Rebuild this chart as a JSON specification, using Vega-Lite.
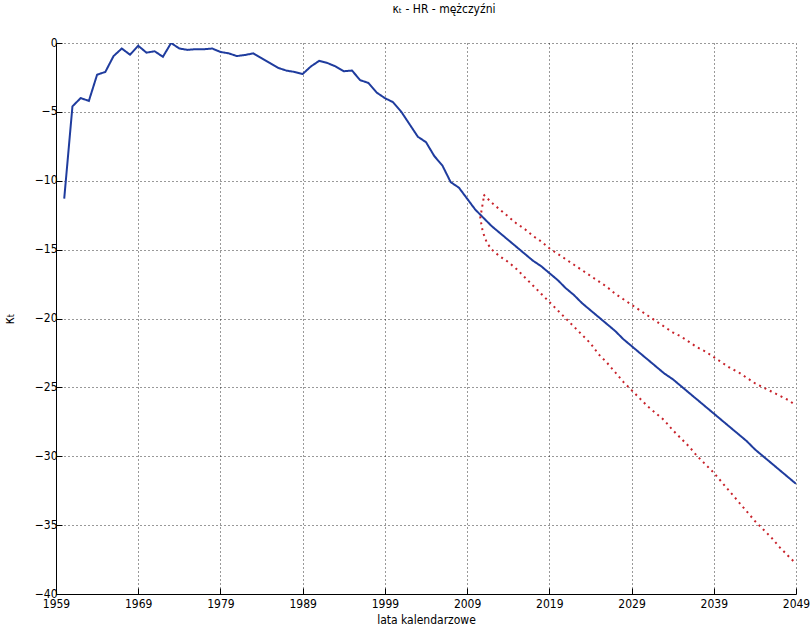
{
  "$schema": "https://vega.github.io/schema/vega-lite/v6.json",
  "width": 740,
  "height": 551,
  "autosize": "none",
  "padding": {"left": 56, "top": 43, "right": 16, "bottom": 37},
  "background": "white",
  "title": {"text": "κₜ - HR -  mężczyźni", "font": "DejaVu Sans Condensed, Liberation Sans, sans-serif", "fontSize": 12, "fontWeight": "normal", "color": "black", "offset": 20, "dx": 18},
  "config": {
    "view": {"stroke": null},
    "axis": {"labelFont": "DejaVu Sans Condensed, Liberation Sans, sans-serif", "labelFontSize": 12, "labelColor": "black", "titleFont": "DejaVu Sans Condensed, Liberation Sans, sans-serif", "titleFontSize": 12, "titleFontWeight": "normal", "titleColor": "black", "domainColor": "black", "tickColor": "black", "gridColor": "black", "gridDash": [1, 3], "gridOpacity": 0.8, "gridWidth": 1}
  },
  "data": {"values": [
    {"year":1960,"value":-11.3,"s":"kt"},{"year":1961,"value":-4.6,"s":"kt"},{"year":1962,"value":-4.0,"s":"kt"},{"year":1963,"value":-4.2,"s":"kt"},{"year":1964,"value":-2.3,"s":"kt"},{"year":1965,"value":-2.1,"s":"kt"},{"year":1966,"value":-0.95,"s":"kt"},{"year":1967,"value":-0.4,"s":"kt"},{"year":1968,"value":-0.85,"s":"kt"},{"year":1969,"value":-0.2,"s":"kt"},{"year":1970,"value":-0.7,"s":"kt"},{"year":1971,"value":-0.6,"s":"kt"},{"year":1972,"value":-1.0,"s":"kt"},{"year":1973,"value":0.0,"s":"kt"},{"year":1974,"value":-0.4,"s":"kt"},{"year":1975,"value":-0.5,"s":"kt"},{"year":1976,"value":-0.45,"s":"kt"},{"year":1977,"value":-0.45,"s":"kt"},{"year":1978,"value":-0.4,"s":"kt"},{"year":1979,"value":-0.65,"s":"kt"},{"year":1980,"value":-0.75,"s":"kt"},{"year":1981,"value":-0.95,"s":"kt"},{"year":1982,"value":-0.87,"s":"kt"},{"year":1983,"value":-0.75,"s":"kt"},{"year":1984,"value":-1.1,"s":"kt"},{"year":1985,"value":-1.45,"s":"kt"},{"year":1986,"value":-1.8,"s":"kt"},{"year":1987,"value":-2.0,"s":"kt"},{"year":1988,"value":-2.1,"s":"kt"},{"year":1989,"value":-2.25,"s":"kt"},{"year":1990,"value":-1.7,"s":"kt"},{"year":1991,"value":-1.3,"s":"kt"},{"year":1992,"value":-1.45,"s":"kt"},{"year":1993,"value":-1.7,"s":"kt"},{"year":1994,"value":-2.05,"s":"kt"},{"year":1995,"value":-2.0,"s":"kt"},{"year":1996,"value":-2.7,"s":"kt"},{"year":1997,"value":-2.9,"s":"kt"},{"year":1998,"value":-3.6,"s":"kt"},{"year":1999,"value":-4.0,"s":"kt"},{"year":2000,"value":-4.3,"s":"kt"},{"year":2001,"value":-5.0,"s":"kt"},{"year":2002,"value":-5.9,"s":"kt"},{"year":2003,"value":-6.8,"s":"kt"},{"year":2004,"value":-7.2,"s":"kt"},{"year":2005,"value":-8.2,"s":"kt"},{"year":2006,"value":-8.9,"s":"kt"},{"year":2007,"value":-10.1,"s":"kt"},{"year":2008,"value":-10.5,"s":"kt"},{"year":2009,"value":-11.3,"s":"kt"},{"year":2010,"value":-12.1,"s":"kt"},{"year":2011,"value":-12.7,"s":"kt"},{"year":2012,"value":-13.3,"s":"kt"},{"year":2013,"value":-13.8,"s":"kt"},{"year":2014,"value":-14.3,"s":"kt"},{"year":2015,"value":-14.8,"s":"kt"},{"year":2016,"value":-15.3,"s":"kt"},{"year":2017,"value":-15.8,"s":"kt"},{"year":2018,"value":-16.2,"s":"kt"},{"year":2019,"value":-16.7,"s":"kt"},{"year":2020,"value":-17.2,"s":"kt"},{"year":2021,"value":-17.8,"s":"kt"},{"year":2022,"value":-18.3,"s":"kt"},{"year":2023,"value":-18.9,"s":"kt"},{"year":2024,"value":-19.4,"s":"kt"},{"year":2025,"value":-19.9,"s":"kt"},{"year":2026,"value":-20.4,"s":"kt"},{"year":2027,"value":-20.9,"s":"kt"},{"year":2028,"value":-21.5,"s":"kt"},{"year":2029,"value":-22.0,"s":"kt"},{"year":2030,"value":-22.5,"s":"kt"},{"year":2031,"value":-23.0,"s":"kt"},{"year":2032,"value":-23.5,"s":"kt"},{"year":2033,"value":-24.0,"s":"kt"},{"year":2034,"value":-24.4,"s":"kt"},{"year":2035,"value":-24.9,"s":"kt"},{"year":2036,"value":-25.4,"s":"kt"},{"year":2037,"value":-25.9,"s":"kt"},{"year":2038,"value":-26.4,"s":"kt"},{"year":2039,"value":-26.9,"s":"kt"},{"year":2040,"value":-27.4,"s":"kt"},{"year":2041,"value":-27.9,"s":"kt"},{"year":2042,"value":-28.4,"s":"kt"},{"year":2043,"value":-28.9,"s":"kt"},{"year":2044,"value":-29.5,"s":"kt"},{"year":2045,"value":-30.0,"s":"kt"},{"year":2046,"value":-30.5,"s":"kt"},{"year":2047,"value":-31.0,"s":"kt"},{"year":2048,"value":-31.5,"s":"kt"},{"year":2049,"value":-32.0,"s":"kt"},
    {"year":2011,"value":-11.0,"s":"up"},{"year":2012,"value":-11.6,"s":"up"},{"year":2013,"value":-12.1,"s":"up"},{"year":2014,"value":-12.6,"s":"up"},{"year":2015,"value":-13.1,"s":"up"},{"year":2016,"value":-13.5,"s":"up"},{"year":2017,"value":-14.0,"s":"up"},{"year":2018,"value":-14.4,"s":"up"},{"year":2019,"value":-14.9,"s":"up"},{"year":2020,"value":-15.3,"s":"up"},{"year":2021,"value":-15.7,"s":"up"},{"year":2022,"value":-16.1,"s":"up"},{"year":2023,"value":-16.5,"s":"up"},{"year":2024,"value":-16.9,"s":"up"},{"year":2025,"value":-17.3,"s":"up"},{"year":2026,"value":-17.7,"s":"up"},{"year":2027,"value":-18.2,"s":"up"},{"year":2028,"value":-18.6,"s":"up"},{"year":2029,"value":-19.0,"s":"up"},{"year":2030,"value":-19.4,"s":"up"},{"year":2031,"value":-19.8,"s":"up"},{"year":2032,"value":-20.2,"s":"up"},{"year":2033,"value":-20.6,"s":"up"},{"year":2034,"value":-21.0,"s":"up"},{"year":2035,"value":-21.3,"s":"up"},{"year":2036,"value":-21.7,"s":"up"},{"year":2037,"value":-22.1,"s":"up"},{"year":2038,"value":-22.4,"s":"up"},{"year":2039,"value":-22.8,"s":"up"},{"year":2040,"value":-23.2,"s":"up"},{"year":2041,"value":-23.6,"s":"up"},{"year":2042,"value":-23.9,"s":"up"},{"year":2043,"value":-24.3,"s":"up"},{"year":2044,"value":-24.7,"s":"up"},{"year":2045,"value":-25.0,"s":"up"},{"year":2046,"value":-25.3,"s":"up"},{"year":2047,"value":-25.6,"s":"up"},{"year":2048,"value":-25.9,"s":"up"},{"year":2049,"value":-26.3,"s":"up"},
    {"year":2011.0,"value":-11.3,"s":"lo"},{"year":2010.6,"value":-12.7,"s":"lo"},{"year":2010.9,"value":-13.7,"s":"lo"},{"year":2011.4,"value":-14.5,"s":"lo"},{"year":2012,"value":-15.0,"s":"lo"},{"year":2013,"value":-15.5,"s":"lo"},{"year":2014,"value":-15.9,"s":"lo"},{"year":2015,"value":-16.4,"s":"lo"},{"year":2016,"value":-17.0,"s":"lo"},{"year":2017,"value":-17.6,"s":"lo"},{"year":2018,"value":-18.2,"s":"lo"},{"year":2019,"value":-18.8,"s":"lo"},{"year":2020,"value":-19.4,"s":"lo"},{"year":2021,"value":-20.0,"s":"lo"},{"year":2022,"value":-20.6,"s":"lo"},{"year":2023,"value":-21.2,"s":"lo"},{"year":2024,"value":-21.8,"s":"lo"},{"year":2025,"value":-22.6,"s":"lo"},{"year":2026,"value":-23.2,"s":"lo"},{"year":2027,"value":-23.9,"s":"lo"},{"year":2028,"value":-24.6,"s":"lo"},{"year":2029,"value":-25.2,"s":"lo"},{"year":2030,"value":-25.8,"s":"lo"},{"year":2031,"value":-26.4,"s":"lo"},{"year":2032,"value":-26.9,"s":"lo"},{"year":2033,"value":-27.4,"s":"lo"},{"year":2034,"value":-28.1,"s":"lo"},{"year":2035,"value":-28.7,"s":"lo"},{"year":2036,"value":-29.3,"s":"lo"},{"year":2037,"value":-30.0,"s":"lo"},{"year":2038,"value":-30.6,"s":"lo"},{"year":2039,"value":-31.2,"s":"lo"},{"year":2040,"value":-31.9,"s":"lo"},{"year":2041,"value":-32.6,"s":"lo"},{"year":2042,"value":-33.3,"s":"lo"},{"year":2043,"value":-34.0,"s":"lo"},{"year":2044,"value":-34.7,"s":"lo"},{"year":2045,"value":-35.3,"s":"lo"},{"year":2046,"value":-35.9,"s":"lo"},{"year":2047,"value":-36.6,"s":"lo"},{"year":2048,"value":-37.2,"s":"lo"},{"year":2049,"value":-37.8,"s":"lo"}
  ]},
  "mark": {"type": "line", "strokeWidth": 2, "clip": true},
  "encoding": {
    "x": {"field": "year", "type": "quantitative", "scale": {"domain": [1959, 2049], "nice": false, "zero": false},
      "axis": {"values": [1959,1969,1979,1989,1999,2009,2019,2029,2039,2049], "format": "d", "title": "lata kalendarzowe", "tickSize": -6, "labelPadding": 10, "labelFlush": false, "titlePadding": 5, "grid": true}},
    "y": {"field": "value", "type": "quantitative", "scale": {"domain": [-40, 0], "nice": false},
      "axis": {"values": [-40,-35,-30,-25,-20,-15,-10,-5,0], "title": "κₜ", "titleFontSize": 14, "tickSize": -6, "labelPadding": 5, "labelOffset": -1, "titlePadding": 18, "titleAngle": -90, "grid": true}},
    "color": {"field": "s", "type": "nominal", "scale": {"domain": ["kt","up","lo"], "range": ["#1f3c9e","#c8232b","#c8232b"]}, "legend": null},
    "strokeDash": {"field": "s", "type": "nominal", "scale": {"domain": ["kt","up","lo"], "range": [[1,0],[2,4],[2,4]]}, "legend": null},
    "order": {"value": null}
  }
}
